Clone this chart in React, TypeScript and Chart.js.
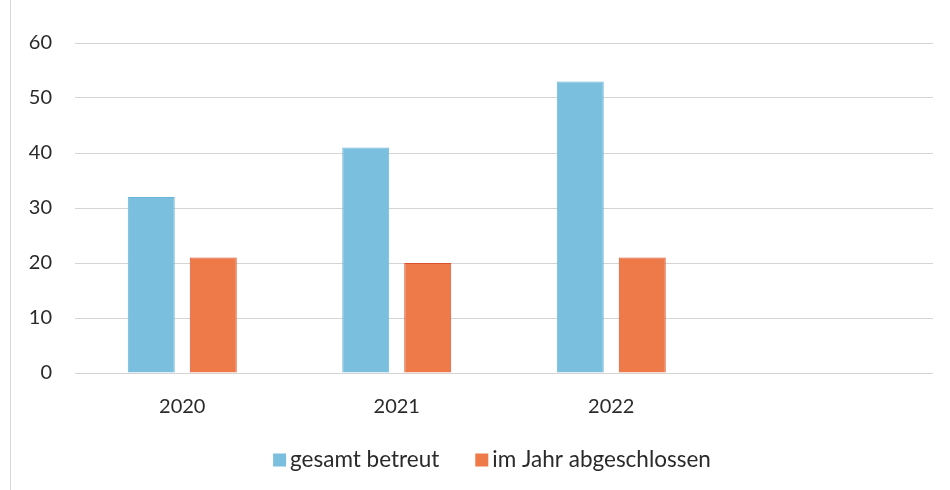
import React, { useEffect, useRef } from "react";
import { Chart, registerables } from "chart.js";

Chart.register(...registerables);

const categories = ["2020", "2021", "2022", ""];
const gesamtBetreut = [32, 41, 53, null];
const imJahrAbgeschlossen = [21, 20, 21, null];
const yTicks = [0, 10, 20, 30, 40, 50, 60];

const FONT = "Lato, 'Open Sans', sans-serif";
const TEXT = "#2a2a2a";

const legendPlugin = {
  id: "customLegend",
  afterDraw(chart: any) {
    const ctx = chart.ctx;
    const ds = chart.data.datasets;
    const fontSize = 22.5;
    const box = 13;
    const boxGap = 4;
    const itemGap = 36;
    ctx.save();
    ctx.font = `${fontSize}px ${FONT}`;
    const widths = ds.map((d: any) => box + boxGap + ctx.measureText(d.label).width);
    const total = widths.reduce((a: number, b: number) => a + b, 0) + itemGap * (ds.length - 1);
    let x = 492 - total / 2;
    const cy = 460;
    ds.forEach((d: any, i: number) => {
      ctx.fillStyle = d.backgroundColor;
      ctx.fillRect(x, cy - box / 2, box, box);
      ctx.fillStyle = TEXT;
      ctx.textBaseline = "middle";
      ctx.textAlign = "left";
      ctx.fillText(d.label, x + box + boxGap, cy);
      x += widths[i] + itemGap;
    });
    ctx.restore();
  },
};

export default function App() {
  const ref = useRef<HTMLCanvasElement>(null);
  useEffect(() => {
    if (!ref.current) return;
    const chart = new Chart(ref.current, {
      type: "bar",
      data: {
        labels: categories,
        datasets: [
          {
            label: "gesamt betreut",
            data: gesamtBetreut,
            backgroundColor: "#7BBFDF",
            borderColor: "#6CB4D8",
            borderWidth: 1,
            categoryPercentage: 0.578,
            barPercentage: 0.758,
          },
          {
            label: "im Jahr abgeschlossen",
            data: imJahrAbgeschlossen,
            backgroundColor: "#EE7A4A",
            borderColor: "#D9502A",
            borderWidth: 1,
            categoryPercentage: 0.578,
            barPercentage: 0.758,
          },
        ],
      },
      options: {
        animation: false,
        responsive: false,
        layout: { padding: { left: 20, right: 17, top: 43, bottom: 73 } },
        scales: {
          x: {
            grid: { display: false, drawTicks: false },
            border: { display: false },
            ticks: { color: TEXT, font: { family: FONT, size: 20 }, padding: 22 },
            afterFit: (s: any) => { s.height = 44; },
          },
          y: {
            min: 0,
            max: 60,
            afterBuildTicks: (s: any) => { s.ticks = yTicks.map((v) => ({ value: v })); },
            grid: { color: "#d4d4d4", lineWidth: 1, drawTicks: false },
            border: { display: false },
            ticks: { color: TEXT, font: { family: FONT, size: 20 }, padding: 23 },
            afterFit: (s: any) => { s.width = 55; },
          },
        },
        plugins: {
          legend: { display: false },
          tooltip: { enabled: false },
        },
      },
      plugins: [legendPlugin],
    });
    return () => chart.destroy();
  }, []);
  return (
    <div style={{ position: "fixed", left: 0, top: 0, width: 950, height: 490, background: "#fff" }}>
      <div style={{ position: "absolute", left: 10, top: 0, width: 1, height: 490, background: "#d8d8d8" }} />
      <canvas ref={ref} width={950} height={490} style={{ position: "absolute", left: 0, top: 0 }} />
    </div>
  );
}
